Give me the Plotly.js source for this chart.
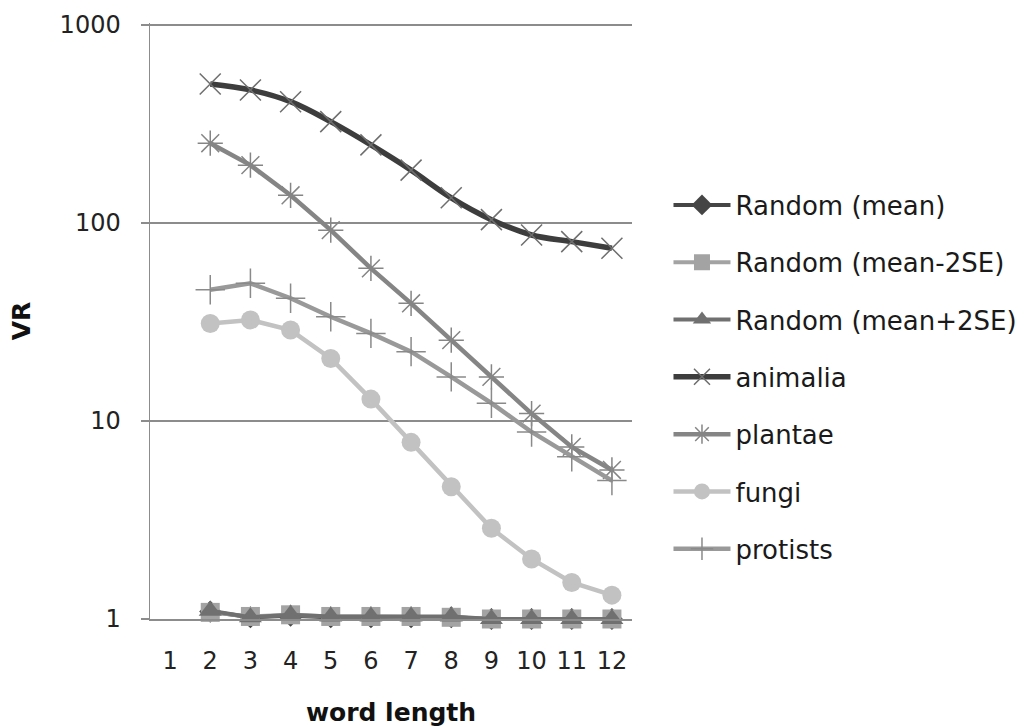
<!DOCTYPE html>
<html>
<head>
<meta charset="utf-8">
<script src="https://cdn.plot.ly/plotly-3.0.1.min.js"></script>
<style>html,body{margin:0;padding:0;background:#fff;}#chart{width:1025px;height:727px;}</style>
</head>
<body>
<div id="chart"></div>
<script>
var wordLength = [2, 3, 4, 5, 6, 7, 8, 9, 10, 11, 12];
var xTicks = [1, 2, 3, 4, 5, 6, 7, 8, 9, 10, 11, 12];
var yTicks = [1, 10, 100, 1000];

var randomMean   = [1.09, 1.02, 1.04, 1.02, 1.02, 1.02, 1.02, 1.0, 1.0, 1.0, 1.0];
var randomMinus  = [1.08, 1.03, 1.05, 1.03, 1.03, 1.03, 1.02, 1.0, 1.0, 1.0, 1.0];
var randomPlus   = [1.10, 1.02, 1.05, 1.03, 1.03, 1.03, 1.03, 1.0, 1.0, 1.0, 1.0];
var animalia     = [504, 470, 410, 325, 248, 185, 134, 104, 87, 80.5, 74.5];
var plantae      = [253, 196, 138, 92, 59, 39.3, 25.6, 16.7, 10.9, 7.4, 5.66];
var fungi        = [31.1, 32.4, 28.8, 20.7, 12.9, 7.8, 4.66, 2.87, 2.01, 1.53, 1.32];
var protists     = [46, 49.6, 41.7, 33.6, 27.7, 22.4, 16.7, 12.3, 8.8, 6.6, 5.0];

function tr(name, y, color, lw, marker, shape, g) {
  return {
    x: wordLength, y: y, name: name, type: 'scatter', mode: 'lines+markers',
    line: {color: color, width: lw, shape: shape || 'linear', smoothing: 1},
    marker: marker, cliponaxis: false, legendgroup: g
  };
}

var data = [
  tr('Random (mean)', randomMean, '#454545', 4, {symbol: 'diamond', size: 17, color: '#454545'}, null, 'a'),
  tr('Random (mean-2SE)', randomMinus, '#a3a3a3', 4, {symbol: 'square', size: 19, color: '#a3a3a3'}, null, 'b'),
  tr('Random (mean+2SE)', randomPlus, '#707070', 4, {symbol: 'triangle-up', size: 20, color: '#707070'}, null, 'c'),
  tr('animalia', animalia, '#3d3d3d', 5.5, {symbol: 'x-thin-open', size: 21, color: '#6e6e6e', line: {width: 1.5}}, 'spline', 'd'),
  tr('plantae', plantae, '#858585', 4.5, {symbol: 'asterisk-open', size: 21, color: '#858585', line: {width: 1.5}}, null, 'e'),
  tr('fungi', fungi, '#c2c2c2', 4.5, {symbol: 'circle', size: 19, color: '#c2c2c2'}, null, 'f'),
  tr('protists', protists, '#999999', 4.5, {symbol: 'cross-thin-open', size: 21, color: '#8a8a8a', line: {width: 1.5}}, null, 'g')
];

var layout = {
  width: 1025, height: 727,
  margin: {l: 150, r: 393, t: 23, b: 108, autoexpand: false},
  paper_bgcolor: '#ffffff', plot_bgcolor: '#ffffff',
  font: {family: 'DejaVu Sans', color: '#222222'},
  showlegend: true,
  legend: {
    x: 1.0757, xanchor: 'left', y: 0.734, yanchor: 'top',
    traceorder: 'grouped', tracegroupgap: 20.5,
    font: {family: 'DejaVu Sans', size: 26, color: '#1a1a1a'},
    itemwidth: 57, bgcolor: 'rgba(0,0,0,0)'
  },
  xaxis: {
    range: [0.5, 12.5], tickmode: 'array', tickvals: xTicks, ticktext: xTicks.map(String),
    showgrid: false, zeroline: false, showline: true, linecolor: '#8c8c8c', linewidth: 1.5,
    ticks: '', ticklabelstandoff: 20,
    tickfont: {family: 'DejaVu Sans', size: 24, color: '#222222'},
    title: {text: '<b>word length</b>', font: {family: 'DejaVu Sans', size: 25, color: '#111111'}, standoff: 34}
  },
  yaxis: {
    type: 'log', range: [0, 3.0101], tickmode: 'array', tickvals: yTicks, ticktext: yTicks.map(String),
    showgrid: true, gridcolor: '#8c8c8c', gridwidth: 1.5, zeroline: false,
    showline: true, linecolor: '#8c8c8c', linewidth: 1.5,
    ticks: 'outside', ticklen: 8, tickcolor: '#8c8c8c', tickwidth: 1.5, ticklabelstandoff: 15,
    tickfont: {family: 'DejaVu Sans', size: 24, color: '#222222'},
    title: {text: '<b>VR</b>', font: {family: 'DejaVu Sans', size: 25, color: '#111111'}, standoff: 22}
  }
};

Plotly.newPlot('chart', data, layout, {displayModeBar: false, staticPlot: true});
</script>
</body>
</html>
